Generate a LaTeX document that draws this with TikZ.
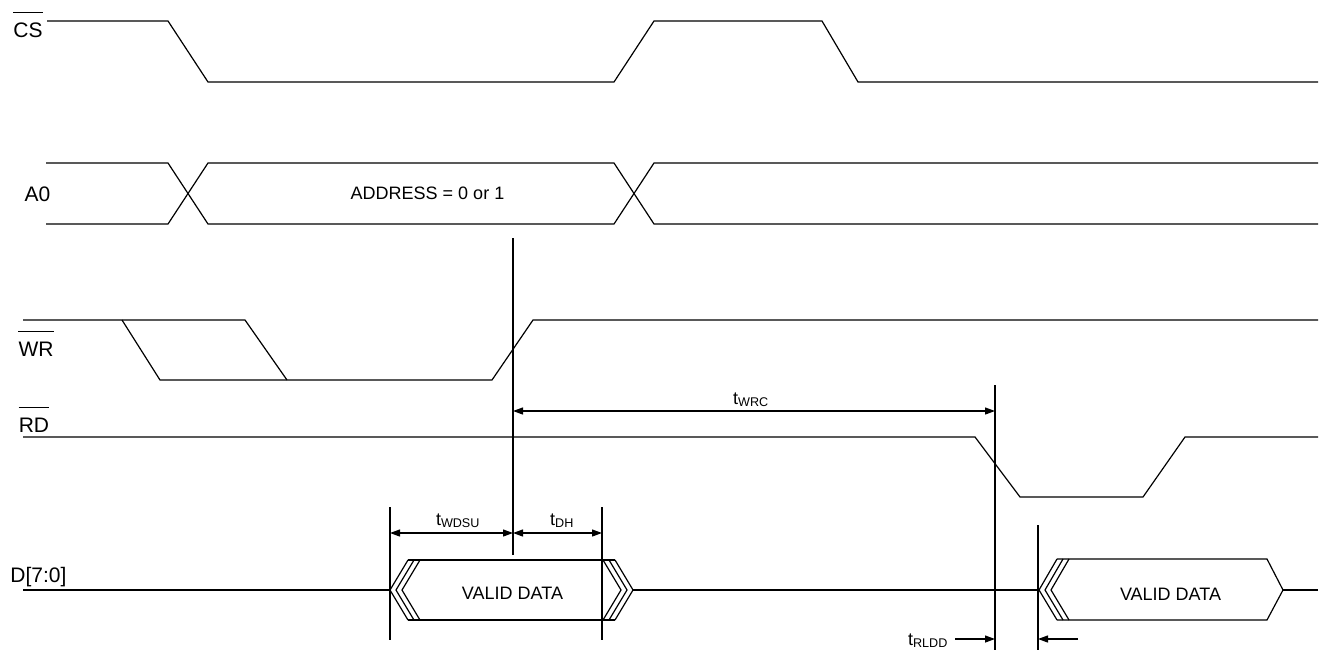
\documentclass[tikz,border=0pt]{standalone}
\usepackage{fontspec}
\setmainfont{Liberation Sans}
\usetikzlibrary{arrows.meta}
\begin{document}
\begin{tikzpicture}[x=1pt,y=-1pt,
  sig/.style={line width=1.2pt, line join=miter},
  vline/.style={line width=1.2pt},
  bar/.style={line width=1.2pt},
  dimarr/.style={line width=1.2pt, {Triangle[length=10pt,width=7pt]}-{Triangle[length=10pt,width=7pt]}},
  onearr/.style={line width=1.2pt, -{Triangle[length=10pt,width=7pt]}},
  lbl/.style={font=\fontsize{21}{24}\selectfont, inner sep=0pt, anchor=base},
  txt/.style={font=\fontsize{18}{21}\selectfont, inner sep=0pt, anchor=base},
  tlbl/.style={font=\fontsize{18}{21}\selectfont, inner sep=0pt, anchor=base}]
\useasboundingbox (0,0) rectangle (1323,651);
% labels
\node[lbl] (cs) at (28,37) {CS};
\draw[bar] ([yshift=10pt]cs.north west) -- ([yshift=10pt]cs.north east);
\node[lbl] (a0) at (37.5,201) {A0};
\node[lbl] (wr) at (36,356) {WR};
\draw[bar] ([yshift=10pt]wr.north west) -- ([yshift=10pt]wr.north east);
\node[lbl] (rd) at (34,432) {RD};
\draw[bar] ([yshift=10pt]rd.north west) -- ([yshift=10pt]rd.north east);
\node[lbl] (d) at (38.5,582) {D[7:0]};
\node[txt] (addr) at (427.5,199) {ADDRESS = 0 or 1};
\node[txt] (vd1) at (512.5,599) {VALID DATA};
\node[txt] (vd2) at (1170.5,600) {VALID DATA};
% CS
\draw[sig] (47,21) -- (168,21) -- (208,82) -- (614,82) -- (654,21) -- (822,21) -- (858,82) -- (1318,82);
% A0
\draw[sig] (46,163) -- (168,163) -- (208,224) -- (614,224) -- (654,163) -- (1318,163);
\draw[sig] (46,224) -- (168,224) -- (208,163) -- (614,163) -- (654,224) -- (1318,224);
% WR
\draw[sig] (23,320) -- (245,320) -- (287,380);
\draw[sig] (122,320) -- (160,380) -- (492,380) -- (533,320) -- (1318,320);
% RD
\draw[sig] (23,437) -- (975,437) -- (1020,497) -- (1143,497) -- (1185,437) -- (1318,437);
% D
\draw[sig] (23,590) -- (390,590);
\draw[sig] (408,560) -- (615,560);
\draw[sig] (408,620) -- (615,620);
\foreach \dx in {0,6,12} {
  \draw[sig] (408+\dx,560) -- (390+\dx,590) -- (408+\dx,620);
  \draw[sig] (603+\dx,560) -- (621+\dx,590) -- (603+\dx,620);
}
\draw[sig] (633,590) -- (1039,590);
\draw[sig] (1057,559) -- (1267,559) -- (1283,590) -- (1267,620) -- (1057,620);
\foreach \dx in {0,6,12} {
  \draw[sig] (1057+\dx,559) -- (1039+\dx,590) -- (1057+\dx,620);
}
\draw[sig] (1283,590) -- (1318,590);
% vertical reference lines
\coordinate (v1t) at (513,238); \coordinate (v1b) at (513,555);
\coordinate (v2t) at (390,507); \coordinate (v2b) at (390,640);
\coordinate (v3t) at (602,507); \coordinate (v3b) at (602,640);
\coordinate (v4t) at (995,385); \coordinate (v4b) at (995,650);
\coordinate (v5t) at (1038,525); \coordinate (v5b) at (1038,650);
\draw[vline] (v1t) -- (v1b);
\draw[vline] (v2t) -- (v2b);
\draw[vline] (v3t) -- (v3b);
\draw[vline] (v4t) -- (v4b);
\draw[vline] (v5t) -- (v5b);
% dimension arrows
\coordinate (wdsuL) at (390,533); \coordinate (wdsuR) at (513,533);
\coordinate (dhR) at (602,533);
\coordinate (wrcL) at (513,411); \coordinate (wrcR) at (995,411);
\coordinate (rlddA) at (955,639); \coordinate (rlddB) at (995,639);
\coordinate (rlddC) at (1078,639); \coordinate (rlddD) at (1038,639);
\draw[dimarr] (wdsuL) -- (wdsuR);
\draw[dimarr] (wdsuR) -- (dhR);
\draw[dimarr] (wrcL) -- (wrcR);
\draw[onearr] (rlddA) -- (rlddB);
\draw[onearr] (rlddC) -- (rlddD);
\node[tlbl] (twdsu) at (458,525) {t\textsubscript{WDSU}};
\node[tlbl] (tdh) at (562,525) {t\textsubscript{DH}};
\node[tlbl] (twrc) at (751,404) {t\textsubscript{WRC}};
\node[tlbl] (trldd) at (928,645) {t\textsubscript{RLDD}};
\end{tikzpicture}
\end{document}
